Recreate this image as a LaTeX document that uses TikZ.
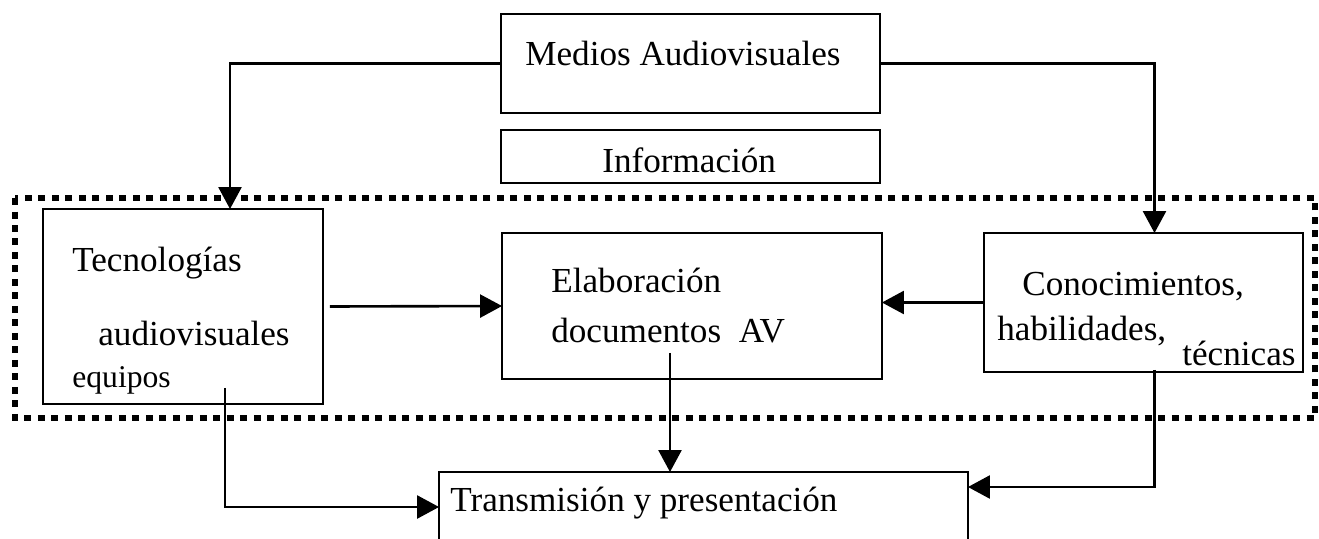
\documentclass[tikz,border=0pt]{standalone}
\usepackage{fontspec}
\setmainfont{Liberation Serif}
\usetikzlibrary{arrows.meta,calc}

\begin{document}
\begin{tikzpicture}[x=0.02cm,y=-0.02cm,
    box/.style={draw,line width=1.2pt,inner sep=0pt,outer sep=0pt},
    txt/.style={draw=none,anchor=base west,inner sep=0pt,font=\fontsize{20}{23}\selectfont},
    arr/.style={line width=1.5pt,-{Triangle[length=0.44cm,width=0.46cm]}},
    dotframe/.style={line width=3.6pt,dash pattern=on 0.14cm off 0.13cm}]

\useasboundingbox (0,0) rectangle (1319,538);
\clip (0,0) rectangle (1319,538);

\draw[dotframe] (15,198) rectangle (1315,418); % Dotted frame

\node [box,minimum width=7.58cm,minimum height=1.98cm] (medios) at (690.5,63.5) {};
\node [box,minimum width=7.58cm,minimum height=1.06cm] (info) at (690.5,156.5) {};
\node [box,minimum width=5.6cm,minimum height=3.9cm] (tec) at (183,306.5) {};
\node [box,minimum width=7.6cm,minimum height=2.92cm] (elab) at (692,306) {};
\node [box,minimum width=6.38cm,minimum height=2.78cm] (con) at (1143.5,302.5) {};
\node [box,minimum width=10.58cm,minimum height=1.4cm] (trans) at (703.5,507) {};

\node [txt] (mediostxt) at (525,65) {Medios Audiovisuales};
\node [txt] (infotxt) at (602,172) {Información};

\node [txt] (tectxt) at (72,271) {Tecnologías};
\node [txt] (avtxt) at (98,345) {audiovisuales};
\node [txt,font=\fontsize{18}{21}\selectfont] (equipostxt) at (72,387) {equipos};

\node [txt] (elabtxt) at (551,292) {Elaboración};
\node [txt] (doctxt) at (551,342) {documentos\ \ AV};

\node [txt] (contxt) at (1022,295) {Conocimientos,};
\node [txt] (habtxt) at (997,340) {habilidades,};
\node [txt] (tectxt2) at (1182,365) {técnicas};

\node [txt] (transtxt) at (450,511) {Transmisión y presentación};

\coordinate (tecout) at ($(tec.south)+(42,-16)$);
\coordinate (elabout) at ($(elab.south)+(-22,-26)$);
\coordinate (conout) at ($(con.south)+(11,-2)$);

\draw[arr] (medios.west) -| ($(tec.north)+(47,0)$);
\draw[arr] (medios.east) -| ($(con.north)+(11,0)$);
\draw[arr,shorten <=0.14cm] (tec.east) -- (elab.west);
\draw[arr] (con.west) -- (con.west -| elab.east);
\draw[arr] (elabout) -- (elabout |- trans.north);
\draw[arr] (tecout) |- (trans.west);
\draw[arr] (conout) |- ($(trans.east)+(0,-20)$);

\end{tikzpicture}
\end{document}
